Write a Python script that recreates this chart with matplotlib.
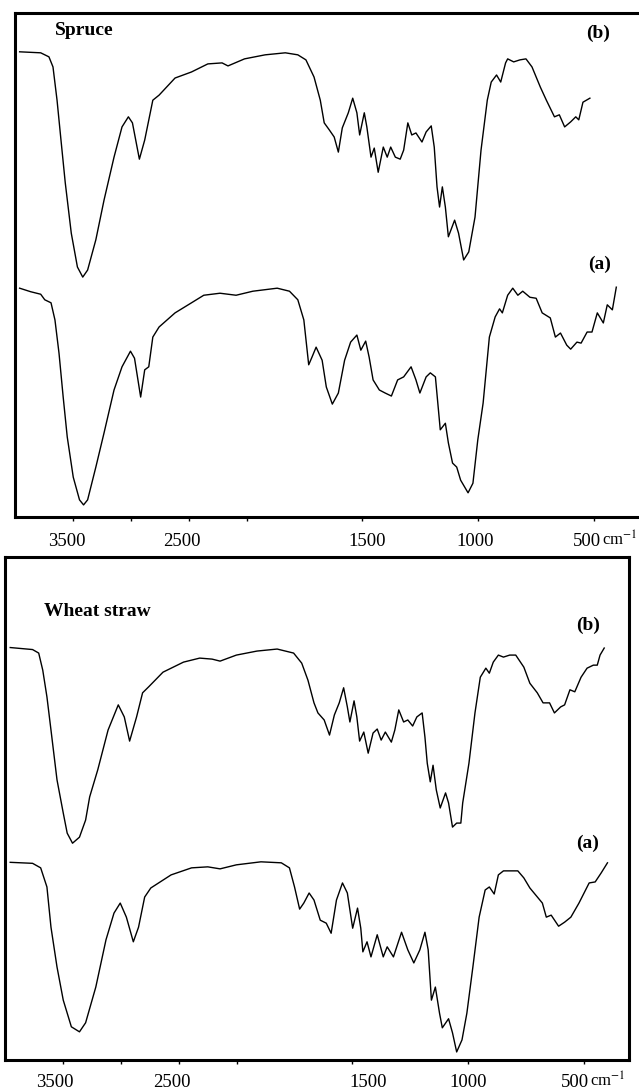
import numpy as np
import matplotlib
matplotlib.use("Agg")
import matplotlib.pyplot as plt
from matplotlib.ticker import FixedLocator, NullFormatter

plt.rcParams['font.family'] = ['Liberation Serif', 'DejaVu Serif']
plt.rcParams['mathtext.fontset'] = 'stix'

# ---- data (wavenumber cm-1, relative transmittance) ----
# Spruce (b)
wn_spruce_b = [3960, 3778, 3707, 3672, 3637, 3603, 3566, 3514, 3461, 3415,
               3373, 3302, 3231, 3145, 3076, 3021, 2986, 2926, 2880, 2810,
               2756, 2618, 2476, 2335, 2212, 2161, 2018, 1920, 1833, 1779,
               1744, 1709, 1682, 1665, 1643, 1622, 1604, 1587, 1561, 1542,
               1524, 1512, 1492, 1481, 1463, 1449, 1432, 1410, 1393, 1378,
               1358, 1337, 1322, 1304, 1287, 1269, 1243, 1225, 1203, 1190,
               1178, 1167, 1155, 1142, 1129, 1102, 1085, 1063, 1041, 1014,
               988, 961, 944, 921, 903, 882, 873, 847, 820, 794,
               768, 732, 706, 671, 650, 627, 601, 579, 566, 548, 518]
t_spruce_b = [92.3, 92.1, 91.3, 89.3, 82.7, 74.8, 66.3, 56.3, 49.6, 47.6,
              49.0, 55.0, 62.9, 71.4, 77.4, 79.4, 78.2, 71.0, 74.8, 82.7,
              83.7, 87.1, 88.3, 89.9, 90.1, 89.5, 90.9, 91.7, 92.1, 91.7,
              90.7, 87.3, 82.7, 78.2, 76.8, 75.4, 72.4, 77.2, 80.2, 83.1,
              80.2, 75.8, 80.2, 77.4, 71.4, 73.2, 68.4, 73.4, 71.4, 73.4,
              71.4, 71.0, 72.8, 78.2, 75.8, 76.2, 74.4, 76.4, 77.6, 73.4,
              65.5, 61.5, 65.5, 61.5, 55.6, 58.9, 56.3, 51.0, 52.6, 59.5,
              72.8, 82.7, 86.3, 87.7, 86.3, 90.1, 90.9, 90.3, 90.7, 90.9,
              89.3, 85.3, 82.7, 79.4, 79.8, 77.4, 78.4, 79.4, 78.8, 82.3, 83.1]

# Spruce (a)
wn_spruce_a = [3960, 3865, 3778, 3743, 3689, 3655, 3620, 3584, 3549, 3497,
               3443, 3408, 3373, 3302, 3231, 3145, 3076, 3003, 2968, 2915,
               2880, 2845, 2810, 2756, 2618, 2476, 2370, 2230, 2091, 1973,
               1868, 1815, 1779, 1753, 1732, 1718, 1700, 1674, 1656, 1630,
               1604, 1577, 1551, 1524, 1507, 1486, 1471, 1454, 1427, 1402,
               1375, 1348, 1322, 1290, 1269, 1252, 1225, 1207, 1185, 1164,
               1142, 1129, 1111, 1093, 1076, 1044, 1023, 1002, 979, 952,
               927, 908, 896, 873, 851, 829, 808, 777, 750, 724,
               689, 667, 645, 618, 601, 574, 556, 530, 509, 486,
               460, 443, 421, 404]
t_spruce_a = [45.4, 44.7, 44.2, 43.1, 42.5, 39.1, 32.5, 23.8, 15.9, 7.9,
              3.4, 2.4, 3.4, 9.9, 16.7, 25.2, 29.8, 32.9, 31.5, 23.8,
              29.2, 29.8, 35.7, 37.7, 40.5, 42.5, 44.0, 44.4, 44.0, 44.8,
              45.4, 44.8, 43.1, 39.1, 30.2, 31.7, 33.7, 31.1, 25.8, 22.4,
              24.6, 31.1, 34.7, 36.1, 33.1, 34.9, 31.7, 27.2, 25.2, 24.6,
              24.0, 27.2, 27.8, 29.8, 27.2, 24.6, 27.8, 28.6, 27.8, 17.3,
              18.6, 14.7, 10.7, 9.9, 7.3, 4.8, 6.7, 15.3, 22.6, 35.7,
              39.7, 41.3, 40.5, 44.0, 45.4, 44.0, 44.8, 43.6, 43.4, 40.5,
              39.5, 35.7, 36.5, 34.1, 33.3, 34.7, 34.5, 36.7, 36.7, 40.5,
              38.5, 42.1, 41.1, 45.6]

# Wheat straw (b)
wn_wheat_b = [3955, 3762, 3709, 3674, 3638, 3603, 3551, 3497, 3463, 3417,
              3357, 3304, 3269, 3199, 3110, 3022, 2970, 2924, 2864, 2812,
              2759, 2636, 2459, 2319, 2212, 2143, 2002, 1912, 1825, 1754,
              1719, 1692, 1666, 1649, 1622, 1599, 1578, 1557, 1538, 1522,
              1511, 1493, 1481, 1469, 1451, 1432, 1411, 1393, 1376, 1358,
              1332, 1317, 1300, 1279, 1261, 1240, 1222, 1199, 1187, 1177,
              1164, 1152, 1138, 1121, 1098, 1085, 1068, 1050, 1032, 1024,
              997, 971, 948, 924, 909, 892, 870, 848, 821, 795,
              760, 734, 702, 677, 649, 628, 601, 584, 561, 540,
              513, 487, 460, 443, 431, 413]
t_wheat_b = [82.0, 81.6, 80.9, 77.5, 72.2, 65.6, 55.7, 49.1, 45.1, 43.1,
             44.3, 47.7, 52.3, 57.7, 65.6, 70.6, 68.2, 63.4, 68.2, 73.0,
             74.2, 77.1, 79.1, 79.9, 79.7, 79.3, 80.5, 81.3, 81.7, 80.9,
             78.9, 75.5, 71.0, 69.0, 67.6, 64.6, 68.6, 71.0, 74.0, 70.2,
             67.2, 71.4, 68.2, 63.4, 65.2, 61.0, 65.0, 65.8, 63.6, 65.2,
             63.2, 65.6, 69.6, 67.2, 67.6, 66.4, 68.2, 69.0, 64.2, 59.0,
             55.3, 58.6, 53.7, 50.1, 53.1, 51.1, 46.3, 47.1, 47.1, 51.1,
             59.0, 69.0, 76.1, 77.9, 76.9, 79.1, 80.5, 80.1, 80.5, 80.5,
             78.1, 74.9, 73.0, 71.0, 71.0, 69.0, 70.2, 70.6, 73.6, 73.2,
             76.1, 77.9, 78.5, 78.5, 80.5, 81.9]

# Wheat straw (a)
wn_wheat_a = [3955, 3762, 3692, 3638, 3603, 3551, 3497, 3427, 3357, 3304,
              3216, 3128, 3059, 3005, 2952, 2892, 2847, 2794, 2741, 2566,
              2389, 2249, 2143, 2002, 1895, 1807, 1772, 1750, 1728, 1710,
              1687, 1666, 1639, 1613, 1592, 1569, 1543, 1522, 1499, 1478,
              1464, 1455, 1437, 1420, 1393, 1367, 1350, 1323, 1288, 1261,
              1235, 1209, 1187, 1173, 1159, 1142, 1124, 1112, 1085, 1068,
              1050, 1027, 1006, 980, 953, 927, 909, 888, 870, 848,
              786, 760, 734, 680, 663, 642, 610, 584, 557, 522,
              478, 452, 426, 399]
t_wheat_a = [39.3, 39.1, 38.2, 34.4, 26.4, 18.5, 11.9, 6.6, 5.6, 7.4,
             14.5, 23.9, 29.2, 31.2, 28.4, 23.5, 26.4, 32.4, 34.2, 36.8,
             38.2, 38.4, 38.0, 38.8, 39.4, 39.2, 38.2, 34.4, 30.0, 31.2,
             33.2, 31.8, 27.8, 27.2, 25.2, 31.8, 35.2, 33.2, 26.2, 30.2,
             26.2, 21.5, 23.5, 20.5, 24.9, 20.5, 22.5, 20.5, 25.4, 21.9,
             19.3, 21.9, 25.4, 21.9, 11.9, 14.5, 9.3, 6.4, 8.2, 5.4,
             1.6, 4.0, 9.3, 18.5, 28.4, 33.8, 34.4, 33.0, 36.8, 37.6,
             37.6, 36.2, 34.2, 31.2, 28.4, 28.8, 26.6, 27.4, 28.4, 31.2,
             35.2, 35.4, 37.2, 39.2]

tick_pos = [3500, 3000, 2500, 2000, 1500, 1000, 500]
label_pos = [3500, 2500, 1500, 1000, 500]
label_txt = ['3500', '2500', '1500', '1000', '500']
unit_txt = 'cm$^{-1}$'

# the printed labels are not quite centred on their ticks (pixel nudges)
nudge_top = [-6, -7, 5, -3, -7]
nudge_bot = [-8, -7, 16, 0, -9]


# FTIR style axis: 4000-2000 drawn at half scale
def fwd(w):
    w = np.asarray(w, dtype=float)
    return np.where(w >= 2000, 2000 + (w - 2000) * 0.5, w)


def inv(u):
    u = np.asarray(u, dtype=float)
    return np.where(u >= 2000, 2000 + (u - 2000) * 2.0, u)


fig = plt.figure(figsize=(6.39, 10.91), dpi=100)
ax1 = fig.add_axes([15 / 639, 1 - 517 / 1091, 624 / 639, 504 / 1091])
ax2 = fig.add_axes([5 / 639, 1 - 1060 / 1091, 624 / 639, 503 / 1091])


def style(ax, nudges, drop):
    ax.set_xscale('function', functions=(fwd, inv))
    ax.set_xlim(4000, 306)
    ax.set_ylim(0, 100)
    ax.xaxis.set_major_locator(FixedLocator(tick_pos))
    ax.xaxis.set_major_formatter(NullFormatter())
    ax.xaxis.set_minor_locator(FixedLocator([]))
    ax.set_yticks([])
    ax.tick_params(axis='x', direction='out', length=3, width=1)
    for s in ax.spines.values():
        s.set_linewidth(2.2)
    for wn, txt, dx in zip(label_pos, label_txt, nudges):
        ax.annotate(txt, xy=(wn, 0), xycoords=('data', 'axes fraction'),
                    xytext=(dx, -drop), textcoords='offset pixels',
                    ha='center', va='baseline', fontsize=13.5)
    # unit after the last label
    ax.annotate(unit_txt, xy=(500, 0), xycoords=('data', 'axes fraction'),
                xytext=(nudges[-1] + 15, -drop), textcoords='offset pixels',
                ha='left', va='baseline', fontsize=12)


style(ax1, nudge_top, 29)
style(ax2, nudge_bot, 27)
ax1.spines['right'].set_visible(False)

ax1.plot(wn_spruce_b, t_spruce_b, color='black', lw=1.0)
ax1.plot(wn_spruce_a, t_spruce_a, color='black', lw=1.0)
ax2.plot(wn_wheat_b, t_wheat_b, color='black', lw=1.0)
ax2.plot(wn_wheat_a, t_wheat_a, color='black', lw=1.0)

lab = dict(fontsize=14, fontweight='bold')
ax1.text(0.064, 0.956, 'Spruce', transform=ax1.transAxes, ha='left', va='baseline', **lab)
ax1.text(0.934, 0.960, '(b)', transform=ax1.transAxes, ha='center', va='center', **lab)
ax1.text(0.9375, 0.502, '(a)', transform=ax1.transAxes, ha='center', va='center', **lab)
ax2.text(0.0625, 0.883, 'Wheat straw', transform=ax2.transAxes, ha='left', va='baseline', **lab)
ax2.text(0.934, 0.865, '(b)', transform=ax2.transAxes, ha='center', va='center', **lab)
ax2.text(0.934, 0.431, '(a)', transform=ax2.transAxes, ha='center', va='center', **lab)

fig.savefig('out.png', dpi=100)
